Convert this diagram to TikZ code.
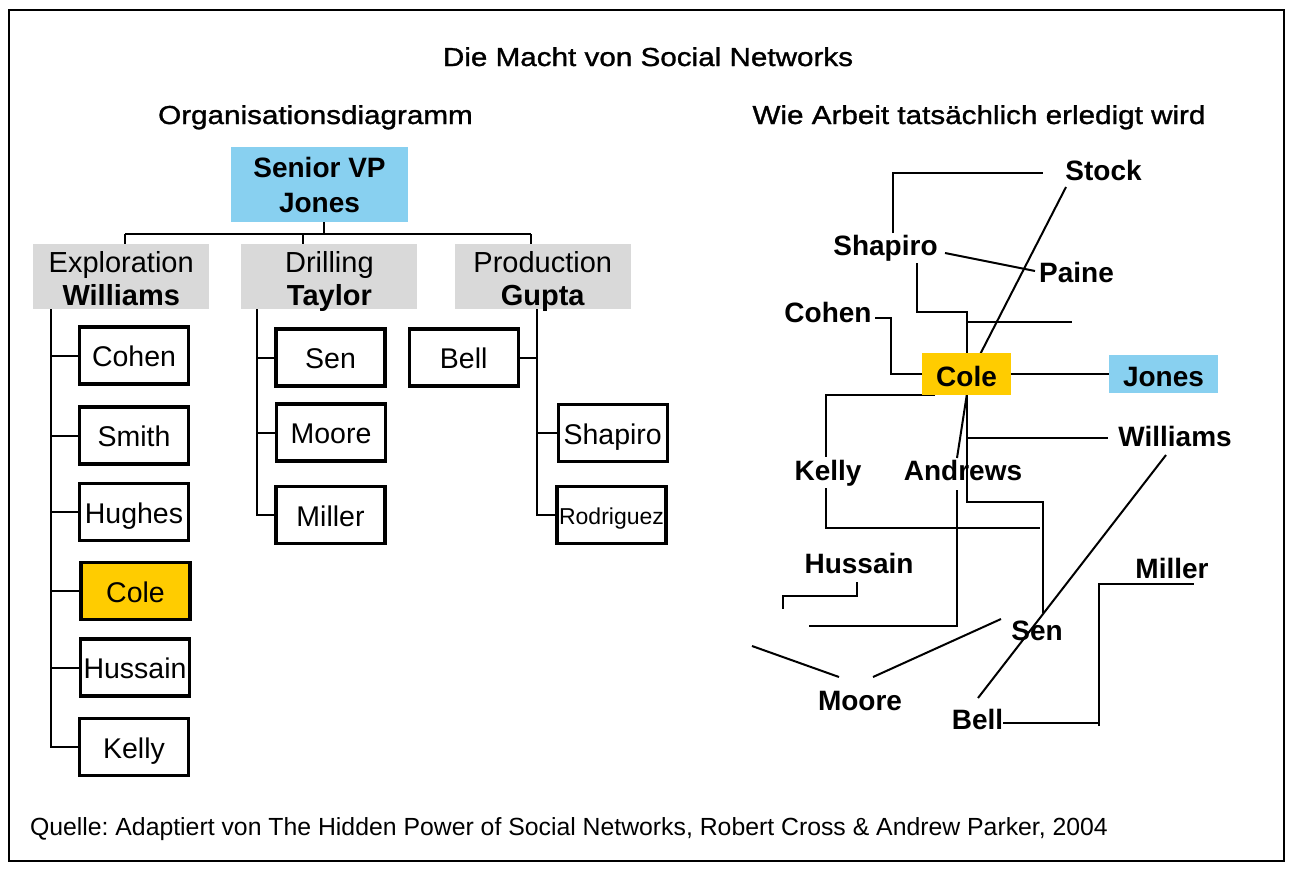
\documentclass[tikz,border=0pt]{standalone}
\usepackage{fontspec}
\setmainfont{Liberation Sans}
\newfontfamily\wideface[FakeStretch=1.14,FakeBold=1.2]{Liberation Sans}
\definecolor{vpblue}{HTML}{88D0F0}
\definecolor{coleyellow}{HTML}{FFCC00}
\definecolor{deptgray}{HTML}{D9D9D9}
\pgfdeclarelayer{back}
\pgfdeclarelayer{bg}
\pgfsetlayers{back,bg,main}
\frenchspacing
\begin{document}
\begin{tikzpicture}[x=1pt,y=-1pt,
  every node/.style={inner sep=0pt,outer sep=0pt},
  conn/.style={line width=2pt},
  person/.style={draw,line width=3.3pt,fill=white,minimum width=109pt,minimum height=57pt,text height=22pt,text depth=0pt,font=\fontsize{28.5}{32}\selectfont},
  dept/.style={fill=deptgray,minimum width=176pt,minimum height=65pt},
  depttxt/.style={anchor=base,font=\fontsize{29}{33}\selectfont},
  vpbox/.style={fill=vpblue,minimum width=177pt,minimum height=75pt},
  vptxt/.style={anchor=base,font=\bfseries\fontsize{28}{32}\selectfont},
  lbl/.style={anchor=base,font=\bfseries\fontsize{28}{32}\selectfont},
  netbox/.style={text height=24pt,text depth=0pt,font=\bfseries\fontsize{28}{32}\selectfont},
  ttl/.style={anchor=base,font=\wideface\fontsize{26}{30}\selectfont},
  note/.style={anchor=base west,font=\fontsize{24.8}{28}\selectfont}
]
\useasboundingbox (0,0) rectangle (1300,878);
\begin{pgfonlayer}{back}
\fill[white] (0,0) rectangle (1300,878);
\end{pgfonlayer}
\node[draw,line width=2.5pt,minimum width=1275pt,minimum height=851pt,anchor=north west] (frame) at (9,10) {};

% titles
\node[ttl] (title) at (648,66) {Die Macht von Social Networks};
\node[ttl] (lefthead) at (315.5,124) {Organisationsdiagramm};
\node[ttl] (righthead) at (979,124) {Wie Arbeit tatsächlich erledigt wird};
\node[note] (source) at (30,835) {Quelle: Adaptiert von The Hidden Power of Social Networks, Robert Cross \& Andrew Parker, 2004};

% ---------------- org chart ----------------
\node[vpbox] (vp) at (319.5,184.5) {};
\node[vptxt] (vpa) at (319.5,177) {Senior VP};
\node[vptxt] (vpb) at (319.5,212) {Jones};

\node[dept] (expl) at (121.2,276.5) {};
\node[depttxt] (expla) at (121.2,272) {Exploration};
\node[depttxt] (explb) at (121.2,305) {\textbf{Williams}};
\node[dept] (dril) at (329.4,276.5) {};
\node[depttxt] (drila) at (329.4,272) {Drilling};
\node[depttxt] (drilb) at (329.4,305) {\textbf{Taylor}};
\node[dept] (prod) at (542.8,276.5) {};
\node[depttxt] (proda) at (542.8,272) {Production};
\node[depttxt] (prodb) at (542.8,305) {\textbf{Gupta}};

\node[person] (cohen) at (134,355.5) {Cohen};
\node[person] (smith) at (134,435.5) {Smith};
\node[person] (hughes) at (134,512) {Hughes};
\node[person,fill=coleyellow] (cole) at (135.5,591.2) {Cole};
\node[person] (hussain) at (135,667.5) {Hussain};
\node[person] (kelly) at (134,747) {Kelly};

\node[person] (sen) at (330.5,357.5) {Sen};
\node[person] (moore) at (331,432.5) {Moore};
\node[person] (miller) at (330.5,515) {Miller};

\node[person] (bell) at (463.7,357.5) {Bell};
\node[person] (shap) at (612.7,433) {Shapiro};
\node[person,font=\fontsize{23}{26}\selectfont,text height=19pt] (rodr) at (611.5,515) {Rodriguez};

\coordinate (bus) at (324.2,234);
\coordinate (te) at (125.3,234);
\coordinate (td) at (303,234);
\coordinate (tp) at (530.5,234);
\coordinate (ev) at (50.8,0);
\coordinate (dv) at (257.4,0);
\coordinate (pv) at (536.5,0);

\begin{pgfonlayer}{bg}
\draw[conn] (vp.south -| bus) -- (bus);
\draw[conn] (te) -- (tp);
\draw[conn] (te) -- (te |- expl.north);
\draw[conn] (td) -- (td |- dril.north);
\draw[conn] (tp) -- (tp |- prod.north);
\draw[conn] (ev |- expl.south) |- (kelly.west);
\foreach \n in {cohen,smith,hughes,cole,hussain}
  \draw[conn] (\n.west) -- (ev |- \n.west);
\draw[conn] (dv |- dril.south) |- (miller.west);
\foreach \n in {sen,moore}
  \draw[conn] (\n.west) -- (dv |- \n.west);
\draw[conn] (pv |- prod.south) |- (rodr.west);
\draw[conn] (shap.west) -- (pv |- shap.west);
\draw[conn] (bell.east) -- (pv |- bell.east);
\end{pgfonlayer}

% ---------------- network ----------------
\node[lbl] (nstock) at (1103.5,180) {Stock};
\node[lbl] (nshap) at (885.5,255) {Shapiro};
\node[lbl] (npaine) at (1076.5,282) {Paine};
\node[lbl] (ncohen) at (828,322) {Cohen};
\node[netbox,fill=coleyellow,minimum width=89pt,minimum height=42pt] (ncole) at (966.5,374) {Cole};
\node[netbox,fill=vpblue,minimum width=109pt,minimum height=38pt] (njones) at (1163.5,374) {Jones};
\node[lbl] (nwill) at (1175,446) {Williams};
\node[lbl] (nkelly) at (828,480) {Kelly};
\node[lbl] (nandr) at (963,480) {Andrews};
\node[lbl] (nhuss) at (859,573) {Hussain};
\node[lbl] (nmiller) at (1172,578) {Miller};
\node[lbl] (nsen) at (1037,640) {Sen};
\node[lbl] (nmoore) at (860,710) {Moore};
\node[lbl] (nbell) at (977.5,729) {Bell};

\begin{pgfonlayer}{bg}
\draw[conn] (893,233) -- (893,172.7) -- (1043,172.7);
\draw[conn] (945,253) -- (1035,271);
\draw[conn] (1066,187) -- (970,374) -- (957,458);
\draw[conn] (875,318) -- (891,318) |- (ncole.west);
\draw[conn] (917,263) -- (917,312) -- (967,312) -- (967,360);
\draw[conn] (967,322) -- (1072,322);
\draw[conn] (ncole.east) -- (njones.west);
\draw[conn] (935,394.5) -- (826,394.5) -- (826,457);
\draw[conn] (826,488) -- (826,528) -- (1040,528);
\draw[conn] (967,390) -- (967,502) -- (1043,502) -- (1043,613);
\draw[conn] (967,438) -- (1108,438);
\draw[conn] (1166,455) -- (978,698);
\draw[conn] (957,490) -- (957,626) -- (809,626);
\draw[conn] (857,582) -- (857,596) -- (783,596) -- (783,609);
\draw[conn] (1001,619) -- (873,677);
\draw[conn] (752,646) -- (839,677);
\draw[conn] (1003,723.3) -- (1099.3,723.3);
\draw[conn] (1099.3,726) -- (1099.3,584) -- (1194,584);
\end{pgfonlayer}
\end{tikzpicture}
\end{document}
